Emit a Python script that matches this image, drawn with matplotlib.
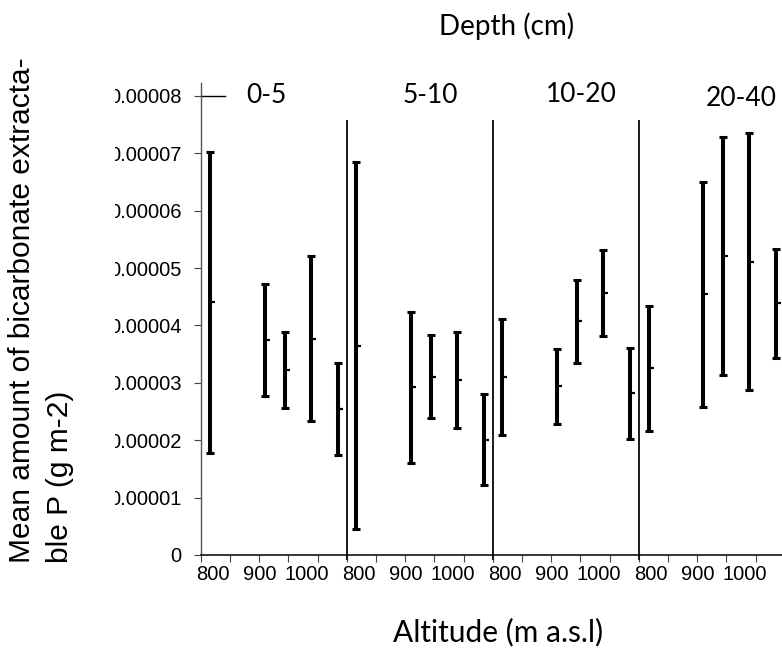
import numpy as np
import matplotlib
matplotlib.use("Agg")
import matplotlib.pyplot as plt
from matplotlib.transforms import Bbox, TransformedBbox, blended_transform_factory

# depth classes, one panel each
depths = ["0-5", "5-10", "10-20", "20-40"]
# sampling altitudes (m a.s.l.)
altitudes = [795, 912, 954, 1009, 1067]
alt_labels = [800, 900, 1000]

# means and error bar half widths, in 1e-5 g m-2
mean_0_5 = [4.40, 3.75, 3.22, 3.77, 2.54]
err_0_5 = [2.63, 0.98, 0.66, 1.44, 0.80]
mean_5_10 = [3.65, 2.92, 3.11, 3.05, 2.01]
err_5_10 = [3.20, 1.31, 0.72, 0.83, 0.79]
mean_10_20 = [3.10, 2.94, 4.07, 4.57, 2.82]
err_10_20 = [1.01, 0.65, 0.73, 0.75, 0.79]
mean_20_40 = [3.25, 4.54, 5.21, 5.11, 4.39]
err_20_40 = [1.09, 1.96, 2.07, 2.24, 0.95]

means = [mean_0_5, mean_5_10, mean_10_20, mean_20_40]
errs = [err_0_5, err_5_10, err_10_20, err_20_40]

y_ticks = [0, 1e-5, 2e-5, 3e-5, 4e-5, 5e-5, 6e-5, 7e-5, 8e-5]
y_ticklabels = ["0", "0.00001", "0.00002", "0.00003", "0.00004",
                "0.00005", "0.00006", "0.00007", "0.00008"]

W = 312.0     # width of one depth panel on the altitude axis
x0 = 774.4    # left end of the axis

plt.rcParams["font.family"] = ["Liberation Sans", "DejaVu Sans"]

fig = plt.figure(figsize=(7.82, 6.48), dpi=100)
ax = fig.add_axes([200.7 / 782, 93 / 648, 581.3 / 782, 472.3 / 648])

# little half-dash marking the mean, sticking out right of the bar
nub = [(0, 0), (1, 0)]

for i in range(len(depths)):
    x = np.array(altitudes) + i * W
    m = np.array(means[i]) * 1e-5
    e = np.array(errs[i]) * 1e-5
    ax.errorbar(x, m, yerr=e, fmt="none", ecolor="black", elinewidth=2.9,
                capsize=2.6, capthick=2.2, clip_on=False)
    ax.plot(x, m, ls="none", marker=nub, ms=7, mec="black", mew=1.6,
            clip_on=False)

# separators between depth panels
ax.vlines([x0 + k * W for k in range(1, 4)], -0.09e-5, 7.58e-5,
          colors="#1a1a1a", lw=1.4, clip_on=False)

ax.set_xlim(x0, x0 + 3.98 * W)
ax.set_ylim(0, 8.23e-5)

ax.spines["top"].set_visible(False)
ax.spines["right"].set_visible(False)
ax.spines["left"].set_color("#555555")
ax.spines["left"].set_linewidth(1.0)
ax.spines["bottom"].set_color("black")
ax.spines["bottom"].set_linewidth(1.1)

# tick marks every fifth of a panel, labels at 800/900/1000 in each panel
ax.set_xticks([x0 + k * W / 5 for k in range(20)])
ax.set_xticklabels([])
ax.tick_params(axis="x", which="major", length=5, width=0.8, color="#444444")
lab_pos = [a + i * W for i in range(4) for a in alt_labels]
ax.set_xticks(lab_pos, [str(a) for i in range(4) for a in alt_labels], minor=True)
ax.tick_params(axis="x", which="minor", length=0, pad=7.0, labelsize=14.5)

ax.set_yticks(y_ticks, y_ticklabels)
ax.tick_params(axis="y", length=5.4, width=0.8, color="#444444", pad=8.4,
               labelsize=14.5)

# the tick labels are cut at the left, as in the source
clip = TransformedBbox(Bbox([[114.5 / 782, 0], [1, 1]]), fig.transFigure)
for lab in ax.get_yticklabels():
    lab.set_clip_box(clip)
    lab.set_clip_on(True)

# short line at the top tick
tr = blended_transform_factory(ax.transAxes, ax.transData)
ax.plot([0, 24.3 / 581.3], [8e-5, 8e-5], color="black", lw=1.0,
        transform=tr, clip_on=False)

# labels
title_font = ["Lato", "DejaVu Sans"]
fig.text(507 / 782, 1 - 35 / 648, "Depth (cm)", ha="center", va="baseline",
         fontsize=20, family=title_font)
fig.text(498 / 782, 1 - 641.7 / 648, "Altitude (m a.s.l)", ha="center",
         va="baseline", fontsize=21.5, family=title_font)
depth_xy = [(266.7, 103.3), (430, 103.3), (581, 101.7), (740.8, 106)]
for d, (px, py) in zip(depths, depth_xy):
    fig.text(px / 782, 1 - py / 648, d, ha="center", va="baseline",
             fontsize=19, family=title_font)

fig.text(8 / 782, 1 - 563 / 648,
         "Mean amount of bicarbonate extracta-\nble P (g m-2)",
         rotation=90, ha="left", va="bottom", multialignment="left",
         linespacing=1.45, fontsize=21.5)

fig.savefig("out.png", dpi=100)
